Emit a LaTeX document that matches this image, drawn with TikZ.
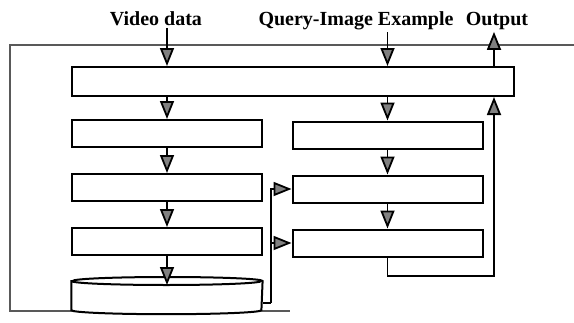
\documentclass[tikz,border=0pt]{standalone}
\usepackage{fontspec}
\setmainfont{Liberation Serif}
\usetikzlibrary{arrows.meta,positioning,calc}

\begin{document}
\begin{tikzpicture}[x=0.5pt, y=-0.5pt, >={Triangle[width=7pt,length=9pt,fill=gray]}, semithick, node distance=12.5pt]
		\tikzstyle{box}=[draw=black,line width=1pt,fill=white,inner sep=0pt,minimum height=13.5pt,minimum width=95pt]
		\tikzstyle{tag}=[font=\bfseries,inner sep=1pt,anchor=base]
		\tikzstyle{flow}=[->,line width=0.9pt]
		\useasboundingbox (0,0) rectangle (574,322);
		% outer frame
		\draw[gray!70!black, line width=1pt] (574,45) -- (10,45) -- (10,311) -- (290,311);
		\node[tag]    (V) at (156,25)   {Video data};
		\node[tag]    (Q) at (356,25)   {Query-Image Example};
		\node[tag]    (O) at (497,25)   {Output};
		\node[box, minimum width=221pt, minimum height=14.5pt]    (T) at (293,81.5) {};
		\node[box]    (L1) at (167,133.5)   {};
		\node[box]    (L2)[below = of L1]   {};
		\node[box]    (L3)[below = of L2]   {};
		\node[minimum width=95pt, minimum height=18pt, inner sep=0pt]    (DB)[below = 10.5pt of L3]   {};
		\node[box]    (R1) at (387.5,135)   {};
		\node[box]    (R2)[below = of R1]   {};
		\node[box]    (R3)[below = of R2]   {};
		\coordinate (J) at ($(DB.east)+(8,7)$);
		\coordinate (F) at (494,276);
		% database
		\draw[line width=1pt, fill=white] ([yshift=-2pt]DB.north west) -- ([yshift=2pt]DB.south west)
			arc[start angle=180, end angle=360, x radius=47.5pt, y radius=2pt]
			-- ([yshift=-2pt]DB.north east)
			arc[start angle=0, end angle=180, x radius=47.5pt, y radius=2pt] -- cycle;
		\draw[line width=1pt] ([yshift=-2pt]DB.north west) arc[start angle=180, end angle=360, x radius=47.5pt, y radius=2pt];
		% connectors
		\draw[flow] (V.south -| L1) -- (T.north -| L1);
		\draw[flow] (Q.south -| R1) -- (T.north -| R1);
		\draw[flow] (T.north -| F) -- (O.south -| F);
		\draw[flow] (T.south -| L1) -- (L1);
		\draw[flow] (L1) -- (L2);
		\draw[flow] (L2) -- (L3);
		\draw[flow] (L3) -- ([yshift=-4pt]DB.north);
		\draw[flow] (T.south -| R1) -- (R1);
		\draw[flow] (R1) -- (R2);
		\draw[flow] (R2) -- (R3);
		\draw[line width=0.9pt] ([yshift=-3.5pt]DB.east) -- (J);
		\draw[flow] (J) |- (R2.west);
		\draw[flow] (J) |- (R3.west);
		\draw[flow] (R3) |- (F) -- (T.south -| F);
	\end{tikzpicture}
\end{document}
